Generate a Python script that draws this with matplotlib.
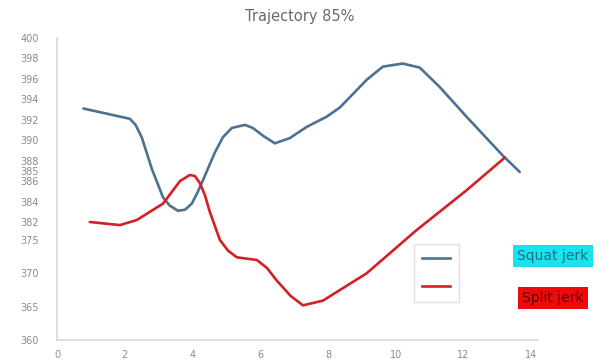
import numpy as np
import matplotlib
matplotlib.use("Agg")
import matplotlib.pyplot as plt
from matplotlib.lines import Line2D

# Series data
squat_x = [0.78, 2.15, 2.32, 2.50, 2.80, 3.13, 3.33, 3.57, 3.78, 3.98, 4.15, 4.31, 4.66, 4.90,
           5.16, 5.55, 5.78, 6.10, 6.43, 6.87, 7.37, 7.96, 8.35, 9.14, 9.62, 10.21, 10.71,
           11.30, 12.09, 13.16, 13.66]
squat_y = [393.1, 392.1, 391.5, 390.3, 387.2, 384.4, 383.6, 383.1, 383.2, 383.8, 384.9, 386.1,
           388.8, 390.3, 391.2, 391.5, 391.2, 390.4, 389.7, 390.2, 391.3, 392.3, 393.2, 395.9,
           397.2, 397.5, 397.1, 395.2, 392.3, 388.5, 386.9]

split_x = [0.97, 1.86, 2.36, 3.13, 3.63, 3.92, 4.07, 4.22, 4.37, 4.50, 4.81, 5.05, 5.31,
           5.90, 6.20, 6.49, 6.90, 7.26, 7.85, 9.14, 10.62, 12.09, 13.22]
split_y = [382.0, 380.8, 382.2, 383.8, 386.0, 386.6, 386.5, 385.8, 384.6, 383.1, 375.0, 373.4,
           372.4, 372.0, 370.8, 368.9, 366.6, 365.2, 365.9, 370.0, 378.9, 385.1, 388.3]

series_names = ["Squat jerk", "Split jerk"]
title = "Trajectory 85%"

x_ticks = [0, 2, 4, 6, 8, 10, 12, 14]
y_ticks = [360, 365, 370, 375, 382, 384, 386, 387, 388, 390, 392, 394, 396, 398, 400]
y_tick_labels = ["360", "365", "370", "375", "382", "384", "386", "385", "388",
                 "390", "392", "394", "396", "398", "400"]

# Broken value axis: compressed lower band, expanded upper band
_vals = np.array([360.0, 375.0, 382.0, 400.0])
_pos = np.array([0.0, 100.0, 118.0, 302.0])


def _fwd(v):
    return np.interp(v, _vals, _pos)


def _inv(p):
    return np.interp(p, _pos, _vals)


fig = plt.figure(figsize=(6.06, 3.63), dpi=100)
ax = fig.add_axes([57 / 606, 1 - 340 / 363, (538 - 57) / 606, (340 - 38) / 363])
ax.set_yscale("function", functions=(_fwd, _inv))
ax.set_ylim(360, 400)
ax.set_xlim(0, 14.2)

blue = "#4d7191"
red = "#d41f26"
ax.plot(squat_x, squat_y, color=blue, lw=1.9, solid_capstyle="round", solid_joinstyle="round")
ax.plot(split_x, split_y, color=red, lw=1.9, solid_capstyle="round", solid_joinstyle="round")

ax.set_xticks(x_ticks)
ax.set_xticklabels([str(t) for t in x_ticks])
ax.set_yticks(y_ticks)
ax.set_yticklabels(y_tick_labels)
ax.minorticks_off()
ax.tick_params(axis="both", length=0, labelsize=7, labelcolor="#8a8a8a")
ax.tick_params(axis="y", pad=13)
ax.tick_params(axis="x", pad=7)

for side in ("top", "right"):
    ax.spines[side].set_visible(False)
for side in ("left", "bottom"):
    ax.spines[side].set_color("#d9d9d9")
    ax.spines[side].set_linewidth(1.2)

fig.text(0.495, 0.955, title, ha="center", va="center", fontsize=10.5,
         color="#6a6a6a", family="DejaVu Sans")

handles = [Line2D([], [], color=blue, lw=1.9), Line2D([], [], color=red, lw=1.9)]
leg = ax.legend(handles, ["", ""], loc="upper left", bbox_to_anchor=(0.728, 0.342),
                frameon=True, handlelength=2.0, handletextpad=0.0, labelspacing=1.0,
                borderpad=0.6, fancybox=False)
leg.get_frame().set_edgecolor("#d9d9d9")
leg.get_frame().set_linewidth(1.0)

fig.text(553 / 606, 1 - 256 / 363, series_names[0], ha="center", va="center", fontsize=10,
         color="#1d6f80", bbox=dict(boxstyle="square,pad=0.3", fc="#19e3ef", ec="none"))
fig.text(553 / 606, 1 - 298 / 363, series_names[1], ha="center", va="center", fontsize=10,
         color="#5a0000", bbox=dict(boxstyle="square,pad=0.3", fc="#ee0a0a", ec="none"))

fig.savefig("out.png", dpi=100)
